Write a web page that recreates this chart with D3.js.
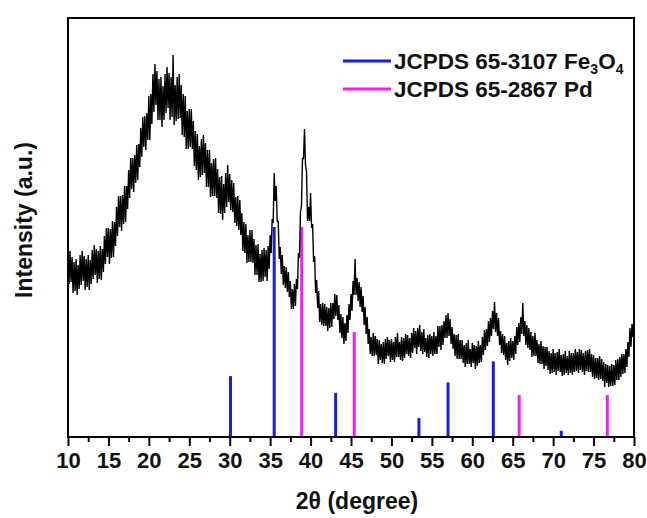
<!DOCTYPE html>
<html lang="en">
	<head>
		<meta charset="utf-8">
		<title>XRD pattern</title>
		<script src="https://d3js.org/d3.v7.min.js"></script>
		<style>
			body { margin: 0; background: #fff; }
			text { font-family: "Liberation Sans", Arial, sans-serif; font-weight: bold; }
		</style>
	</head>
	<body>
		<script type="text/javascript">

			//    Measured scan: 2theta from 10 to 80 in 0.125 steps (one row per degree)
			var scanStart = 10;
			var scanStep = 0.125;
			var intensity = [
				183,153,186,155,180,144,175,146,  178,142,172,148,182,152,186,156,
				181,147,178,150,182,147,177,153,  187,158,192,162,188,154,186,158,
				191,157,188,165,201,173,209,180,  209,173,208,179,216,180,215,191,
				230,201,241,210,241,206,242,213,  251,215,251,228,267,239,279,248,
				279,245,282,254,292,257,293,270,  309,280,320,290,321,287,324,297,
				341,297,343,313,363,325,373,332,  366,317,358,317,360,310,351,317,
				363,324,370,329,364,317,360,320,  382,312,352,316,360,318,363,319,
				352,302,343,300,341,288,326,288,  328,290,328,288,316,271,306,267,
				303,257,291,260,298,262,302,264,  294,250,287,250,287,240,274,241,
				278,241,279,239,268,224,260,223,  261,217,253,224,264,230,272,235,
				263,227,257,225,254,214,240,211,  241,207,237,202,224,186,215,184,
				213,174,202,175,207,175,207,174,  198,162,192,162,193,155,183,155,
				187,156,189,160,187,156,191,168,  202,184,218,214,264,236,251,215,
				216,178,190,163,182,152,171,149,  170,145,165,140,156,128,148,128,
				153,131,158,148,184,179,225,231,  279,278,308,272,265,216,230,216,
				244,209,213,175,181,144,157,129,  146,115,133,112,134,111,133,111,
				130,106,129,109,134,110,134,118,  143,121,142,117,132,104,123,99,
				120,93,114,96,122,104,133,117,    143,126,156,142,178,142,159,136,
				155,130,150,125,141,112,130,103,  120,93,108,83,100,81,104,81,
				101,82,98,73,97,77,93,74,         95,73,98,78,100,81,97,75,
				98,77,95,75,100,80,104,80,        95,77,100,76,99,79,103,83,
				102,81,99,79,104,84,109,89,       106,83,109,90,112,86,105,83,
				108,85,99,80,102,79,103,83,       101,81,105,83,101,83,111,90,
				111,87,112,92,116,99,122,99,      124,101,118,93,110,88,103,81,
				102,78,103,78,97,78,97,74,        92,70,94,73,97,73,88,70,
				94,74,92,68,91,71,96,74,          92,75,100,82,107,87,108,91,
				116,95,119,101,126,108,135,105,   124,101,119,92,106,84,103,82,
				101,77,94,72,96,76,99,79,         96,77,101,83,110,92,114,95,
				120,103,134,101,116,92,112,89,    109,87,105,80,101,81,104,81,
				97,74,93,73,96,73,91,68,          90,71,90,67,86,63,84,64,
				88,65,84,62,85,66,88,65,          82,61,83,62,86,64,81,62,
				86,64,84,62,84,65,88,66,          85,64,88,67,87,65,84,62,
				86,66,87,65,88,65,83,60,          82,58,79,59,79,57,81,58,
				78,56,75,50,73,54,72,50,          71,51,73,51,72,52,77,57,
				78,57,80,60,83,63,83,64,          88,70,95,80,109,90,113,100,
				120
			];

			//    Reference stick patterns (relative intensity, %)
			var fePos = [30.1, 35.5, 43.1, 53.4, 57.0, 62.6, 71.0];
			var feRel = [29, 100, 21, 9, 26, 36, 3];
			var pdPos = [38.9, 45.4, 65.8, 76.7];
			var pdRel = [100, 50, 20, 20];

			var legendNames = ["JCPDS 65-3107 Fe", "JCPDS 65-2867 Pd"];
			var xTicks = d3.range(10, 81, 5);
			var xMinor = d3.range(12.5, 80, 5);

			var blue = "#1c1ce0";
			var magenta = "#f020f0";

			//    Size
			var w = 647;
			var h = 518;
			var pLeft = 68, pRight = 634, pTop = 18, pBottom = 437;

			var xScale = d3.scaleLinear().domain([10, 80]).range([pLeft, pRight]);
			var yScale = d3.scaleLinear().domain([0, 419]).range([pBottom, pTop]);
			var refScale = d3.scaleLinear().domain([0, 100]).range([pBottom, 227]);

			var svg = d3.select("body").append("svg").attr("width", w).attr("height", h);

			//    Reference sticks
			function sticks(pos, rel, color) {
				svg.append("g").selectAll("line").data(pos).enter().append("line")
					.attr("x1", d => xScale(d)).attr("x2", d => xScale(d))
					.attr("y1", pBottom).attr("y2", (d, i) => refScale(rel[i]))
					.attr("stroke", color).attr("stroke-width", 3);
			}
			sticks(fePos, feRel, blue);
			sticks(pdPos, pdRel, magenta);

			//    Trace
			var line = d3.line()
				.x((d, i) => xScale(scanStart + i * scanStep))
				.y(d => yScale(d));
			svg.append("path").datum(intensity)
				.attr("d", line).attr("fill", "none")
				.attr("stroke", "#000").attr("stroke-width", 1.4)
				.attr("stroke-linejoin", "bevel");

			//    Frame
			svg.append("rect").attr("x", pLeft).attr("y", pTop)
				.attr("width", pRight - pLeft).attr("height", pBottom - pTop)
				.attr("fill", "none").attr("stroke", "#000").attr("stroke-width", 2);

			//    X axis
			var xAxis = d3.axisBottom(xScale).tickValues(xTicks).tickSize(9).tickPadding(6);
			var gx = svg.append("g").attr("transform", `translate(0,${pBottom})`).call(xAxis);
			gx.select(".domain").remove();
			gx.selectAll("line").attr("stroke-width", 2);
			gx.selectAll("text").attr("font-size", 22).attr("fill", "#111")
				.style("font-family", "'Liberation Sans', Arial, sans-serif").style("font-weight", "bold");

			var xAxisMinor = d3.axisBottom(xScale).tickValues(xMinor).tickSize(5).tickFormat("");
			var gm = svg.append("g").attr("transform", `translate(0,${pBottom})`).call(xAxisMinor);
			gm.select(".domain").remove();
			gm.selectAll("line").attr("stroke-width", 2);

			//    Axis titles
			svg.append("text").attr("x", 357).attr("y", 509).attr("text-anchor", "middle")
				.attr("font-size", 23).attr("fill", "#111").text("2\u03b8 (degree)");
			svg.append("text").attr("transform", "translate(32,220) rotate(-90)")
				.attr("text-anchor", "middle").attr("font-size", 23).attr("fill", "#111")
				.text("Intensity (a.u.)");

			//    Legend
			var legendY = [61, 89];
			var legendCol = [blue, magenta];
			legendNames.forEach(function(name, i) {
				svg.append("line").attr("x1", 343).attr("x2", 391)
					.attr("y1", legendY[i]).attr("y2", legendY[i])
					.attr("stroke", legendCol[i]).attr("stroke-width", 3);
				var t = svg.append("text").attr("x", 394).attr("y", legendY[i] + 8)
					.attr("font-size", 22.5).attr("fill", "#111");
				t.append("tspan").text(name);
				if (i === 0) {
					t.append("tspan").attr("font-size", 14).attr("dy", 5).text("3");
					t.append("tspan").attr("dy", -5).text("O");
					t.append("tspan").attr("font-size", 14).attr("dy", 5).text("4");
				}
			});

		</script>
	</body>
</html>
